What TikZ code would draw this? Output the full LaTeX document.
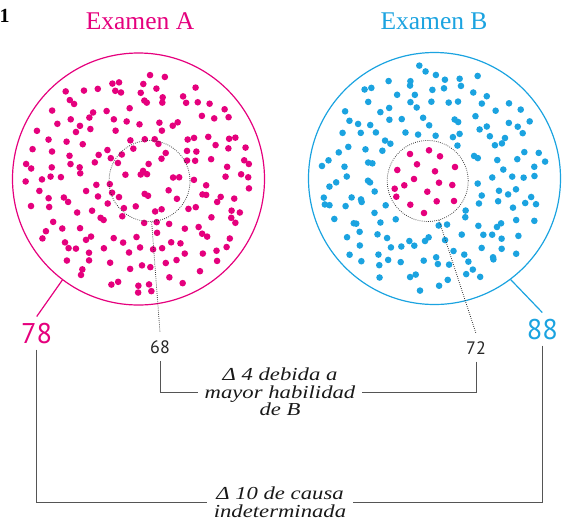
\documentclass[tikz,border=0pt]{standalone}
\usepackage{fontspec}
\setmainfont{Liberation Serif}
\newfontfamily\numfont{PT Sans}
\newfontfamily\labfont[FakeStretch=1.24]{Liberation Serif}
\usetikzlibrary{calc}
\definecolor{magA}{HTML}{E5007D}
\definecolor{cyB}{HTML}{1BA3E0}
\definecolor{lineg}{HTML}{555555}
\begin{document}
\begin{tikzpicture}[x=1pt,y=-1pt,
  outer/.style={circle,draw,line width=1.2pt,inner sep=0pt,minimum size=252pt},
  innerc/.style={circle,draw=black!80,line width=0.75pt,dash pattern=on 0.8pt off 1.3pt,inner sep=0pt,minimum size=81pt},
  title/.style={font=\fontsize{25.5}{28}\selectfont,anchor=base},
  bignum/.style={font=\numfont\fontsize{28.5}{30}\selectfont,anchor=base,inner sep=6pt},
  smallnum/.style={font=\numfont\fontsize{18}{20}\selectfont,text=black!85,anchor=base,inner sep=7.5pt},
  note/.style={font=\labfont\itshape\fontsize{18.3}{17.5}\selectfont,align=center,inner sep=6pt,text=black!90},
  leader/.style={line width=1.2pt},
  bracket/.style={draw=lineg,line width=0.9pt},
  dotline/.style={draw=black!80,line width=0.75pt,dash pattern=on 0.8pt off 1.3pt},
  mdot/.style={fill=magA},
  cdot/.style={fill=cyB}
]
\useasboundingbox (0,0) rectangle (566,523);

% dots of A
\pgfmathsetseed{4242}
\foreach \i in {-8,...,8}{\foreach \j in {-8,...,8}{
  \pgfmathsetmacro\px{\i*14.5+6.5*rand}
  \pgfmathsetmacro\py{\j*14.5+6.5*rand}
  \pgfmathsetmacro\rr{veclen(\px,\py)}
  \ifdim\rr pt<114pt \fill[mdot] ({138.5+\px},{179+\py}) circle[radius=3.3pt];\fi
}}
% dots of B
\pgfmathsetseed{777}
\foreach \i in {-8,...,8}{\foreach \j in {-8,...,8}{
  \pgfmathsetmacro\px{\i*14.5+6.5*rand}
  \pgfmathsetmacro\py{\j*14.5+6.5*rand}
  \pgfmathsetmacro\rr{veclen(\px,\py)}
  \pgfmathsetmacro\rin{veclen(\px+6.8,\py-2.5)}
  \ifdim\rr pt<114pt \ifdim\rin pt>45pt \fill[cdot] ({434.5+\px},{178.5+\py}) circle[radius=3.3pt];\fi\fi
}}
\foreach \x/\y in {410/154,429/150.3,440/156.3,417/164.3,455/167,397.3/170,435/171.3,414/179,404.3/185.3,439/182.7,452.3/185,394.7/188.7,427.3/191.7,396.3/196.7,436.7/201.3,454/201,410.3/204.7,424/213}
  \fill[mdot] (\x,\y) circle[radius=3.3pt];

% circles
\node[outer,draw=magA] (A) at (138.5,179) {};
\node[outer,draw=cyB] (B) at (434.5,178.5) {};
\node[innerc] (iA) at (149.5,181) {};
\node[innerc] (iB) at (427.7,181) {};

% texts
\node[font=\bfseries\fontsize{20}{22}\selectfont,anchor=base west,inner sep=0pt] (num) at (-0.5,22) {1};
\node[title,text=magA] (tA) at (140,29) {Examen A};
\node[title,text=cyB] (tB) at (434,29) {Examen B};
\node[bignum,text=magA] (lA) at (36.7,343) {78};
\node[bignum,text=cyB] (lB) at (542.3,339) {88};
\node[smallnum] (n68) at (160,353) {68};
\node[smallnum] (n72) at (476,354) {72};
\node[note] (t1) at (280,392) {Δ 4 debida a\\mayor habilidad\\de B};
\node[note,inner sep=7pt] (t2) at (280,502) {Δ 10 de causa\\indeterminada};

% connectors
\draw[leader,magA] (A.233.8) -- (lA.north);
\draw[leader,cyB] (B.307.4) -- (lB.north);
\draw[dotline] (iA.273) -- (n68.north);
\draw[dotline] (iB.286.7) -- (n72.north);
\draw[bracket] (n68.south) |- (t1.west);
\draw[bracket] (n72.south) |- (t1.east);
\draw[bracket] (lA.south) |- (t2.west);
\draw[bracket] (lB.south) |- (t2.east);
\end{tikzpicture}
\end{document}
